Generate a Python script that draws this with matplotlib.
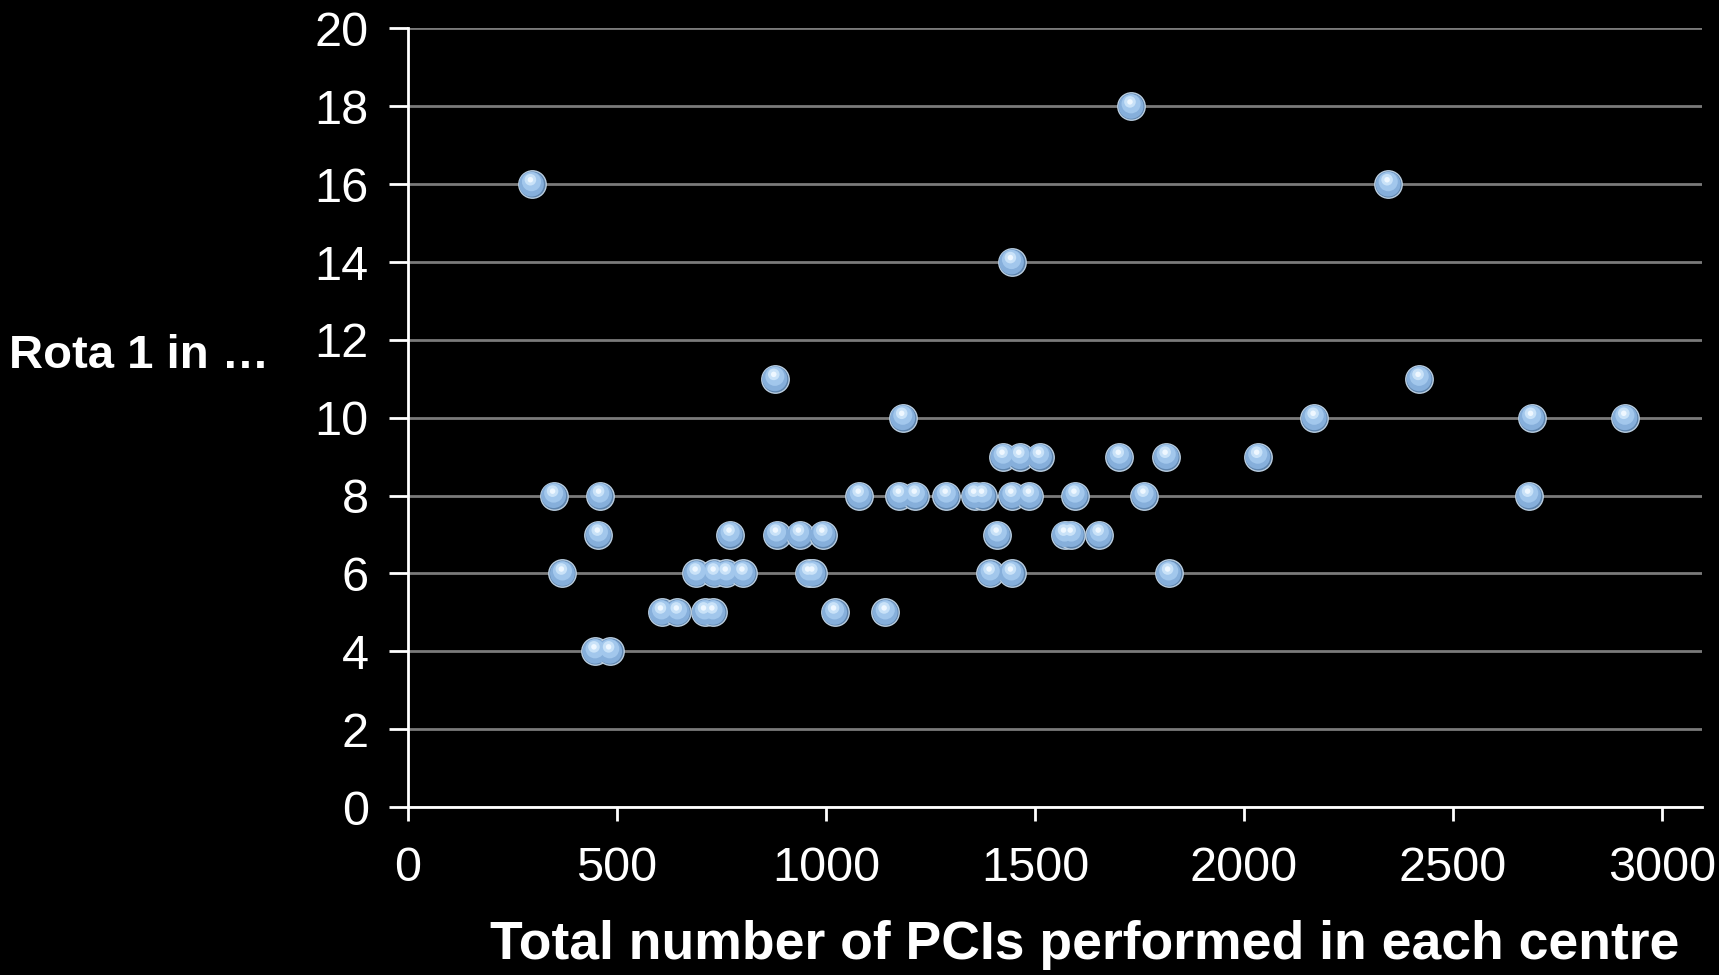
import matplotlib.pyplot as plt
import matplotlib.transforms as mtransforms

plt.rcParams['font.family'] = ['Liberation Sans', 'DejaVu Sans']

# number of PCIs per centre and rota frequency (1 in ...)
pcis = [296, 1730, 2345, 1444, 878, 2419,
        1184, 2168, 2688, 2911,
        1424, 1464, 1511, 1702, 1814, 2033,
        349, 459, 1080, 1176, 1214, 1288, 1356, 1375, 1445, 1487, 1596, 1761, 2681,
        456, 771, 882, 937, 993, 1410, 1571, 1587, 1654,
        370, 690, 733, 762, 802, 959, 969, 1393, 1444, 1820,
        607, 645, 710, 730, 1021, 1142,
        448, 483]
rota = [16, 18, 16, 14, 11, 11,
        10, 10, 10, 10,
        9, 9, 9, 9, 9, 9,
        8, 8, 8, 8, 8, 8, 8, 8, 8, 8, 8, 8, 8,
        7, 7, 7, 7, 7, 7, 7, 7, 7,
        6, 6, 6, 6, 6, 6, 6, 6, 6, 6,
        5, 5, 5, 5, 5, 5,
        4, 4]

x_ticks = [0, 500, 1000, 1500, 2000, 2500, 3000]
y_ticks = list(range(0, 21, 2))

fig = plt.figure(figsize=(17.19, 9.75), dpi=100, facecolor="black")
ax = fig.add_axes([0.2372, 0.1723, 0.7528, 0.7985])
ax.set_facecolor("black")

ax.set_xlim(0, 3095)
ax.set_ylim(0, 20)
ax.set_xticks(x_ticks)
ax.set_yticks(y_ticks)
ax.yaxis.grid(True, color="#7a7a7a", linewidth=2)
ax.set_axisbelow(True)

for s in ["top", "right"]:
    ax.spines[s].set_visible(False)
for s in ["left", "bottom"]:
    ax.spines[s].set_color("white")
    ax.spines[s].set_linewidth(2)

ax.tick_params(axis="y", colors="white", labelsize=35, length=14, width=2, pad=14)
ax.tick_params(axis="x", colors="white", labelsize=35, length=10, width=2, pad=18)

# glossy sphere look: rim, body, lighter upper part, soft highlight
ax.scatter(pcis, rota, s=390, c="#5e84ad", edgecolors="#b9cde0", linewidths=1.0, zorder=3)
ax.scatter(pcis, rota, s=320, c="#86afdb", edgecolors="none", zorder=4)
up = mtransforms.offset_copy(ax.transData, fig=fig, x=0, y=1.8, units="points")
ax.scatter(pcis, rota, s=190, c="#a2c7ec", edgecolors="none", zorder=5, transform=up)
up2 = mtransforms.offset_copy(ax.transData, fig=fig, x=-0.8, y=3.2, units="points")
ax.scatter(pcis, rota, s=70, c="#c9e2f8", edgecolors="none", zorder=6, transform=up2)
ax.scatter(pcis, rota, s=16, c="#eef7ff", edgecolors="none", zorder=7, transform=up2)

fig.text(0.977, 0.031, "Total number of PCIs performed in each centre", color="white",
         fontsize=38.5, fontweight="bold", ha="right", va="center")
fig.text(0.005, 0.635, "Rota 1 in \u2026", color="white",
         fontsize=34, fontweight="bold", ha="left", va="center")

plt.savefig("out.png", dpi=100, facecolor="black")
plt.close()
